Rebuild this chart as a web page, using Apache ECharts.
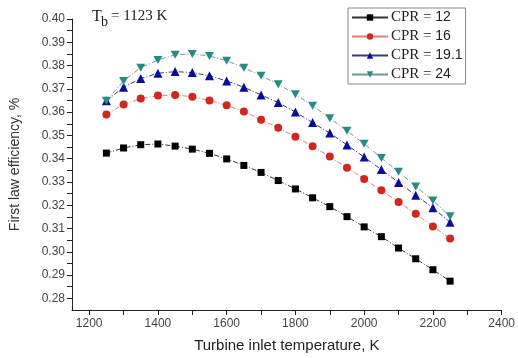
<!DOCTYPE html>
<html><head><meta charset="utf-8">
<script src="https://cdn.jsdelivr.net/npm/echarts@6/dist/echarts.min.js"></script>
<style>html,body{margin:0;padding:0;background:#fff}#c{width:518px;height:358px}</style>
</head><body><div id="c"></div>
<script>
const temps = [1250,1300,1350,1400,1450,1500,1550,1600,1650,1700,1750,1800,1850,1900,1950,2000,2050,2100,2150,2200,2250];
const cpr12 = [.3424,.3446,.3460,.3463,.3454,.3441,.3423,.3399,.3371,.3341,.3306,.3270,.3232,.3194,.3151,.3107,.3065,.3016,.2970,.2923,.2874];
const cpr16 = [.3590,.3633,.3658,.3671,.3674,.3666,.3650,.3629,.3603,.3567,.3533,.3494,.3453,.3409,.3361,.3313,.3264,.3214,.3163,.3109,.3057];
const cpr191 = [.3649,.3707,.3744,.3767,.3774,.3770,.3756,.3734,.3707,.3674,.3641,.3600,.3555,.3510,.3459,.3407,.3353,.3298,.3243,.3189,.3127];
const cpr24 = [.3649,.3734,.3791,.3824,.3846,.3850,.3841,.3821,.3791,.3756,.3720,.3677,.3627,.3574,.3520,.3464,.3403,.3344,.3281,.3220,.3153];
const seriesNames = ['12','16','19.1','24'];
const xLabels = [1200,1400,1600,1800,2000,2200,2400];
const xTicks = [1200,1300,1400,1500,1600,1700,1800,1900,2000,2100,2200,2300,2400];
const yLabels = [0.28,0.29,0.30,0.31,0.32,0.33,0.34,0.35,0.36,0.37,0.38,0.39,0.40];
const yTicks = [0.28,0.285,0.29,0.295,0.30,0.305,0.31,0.315,0.32,0.325,0.33,0.335,0.34,0.345,0.35,0.355,0.36,0.365,0.37,0.375,0.38,0.385,0.39,0.395,0.40];

const pairs = arr => temps.map((t,i)=>[t,arr[i]]);
const styles = [
  {data:cpr12, sym:'rect', size:7, mc:'#000000', lc:'#333333'},
  {data:cpr16, sym:'circle', size:8, mc:'#d0281e', lc:'#e0806f'},
  {data:cpr191, sym:'triangle', size:9, mc:'#0c0c9c', lc:'#3a3a7a'},
  {data:cpr24, sym:'path://M0,0 L10,0 L5,9 Z', size:[9,8], mc:'#2a8a82', lc:'#6f9a96'}
];
const chart = echarts.init(document.getElementById('c'), null, {renderer:'canvas'});
chart.setOption({
  animation:false,
  backgroundColor:'#fff',
  grid:{left:72,right:15,top:19,bottom:47},
  graphic:[
    {type:'text',left:92,top:9,style:{text:'T',font:'16px "Liberation Serif"',fill:'#222'}},
    {type:'text',left:101,top:15,style:{text:'b',font:'14px "Liberation Serif"',fill:'#222'}},
    {type:'text',left:111,top:9,style:{text:'= 1123 K',font:'15px "Liberation Serif"',fill:'#222'}}
  ],
  legend:{
    left:348, top:8, orient:'vertical', itemGap:4, itemWidth:36, itemHeight:8,
    padding:[2,3,2,3],
    borderColor:'#888', borderWidth:1,
    data:seriesNames.map(n=>'CPR = '+n),
    formatter: n => '{a|CPR = }{b|'+n.replace('CPR = ','')+'}',
    lineStyle:{type:'solid'},
    textStyle:{padding:[0,0,0,-2],rich:{a:{fontFamily:'Liberation Serif',fontSize:15,color:'#222'},b:{fontFamily:'Liberation Sans',fontSize:14,color:'#222'}}}
  },
  xAxis:{
    type:'value', min:1150, max:2400,
    name:'Turbine inlet temperature, K', nameLocation:'middle', nameGap:28,
    nameTextStyle:{fontFamily:'Liberation Sans',fontSize:15,color:'#222'},
    axisLine:{lineStyle:{color:'#222',width:1}},
    axisTick:{show:true,inside:false,length:5,customValues:xTicks,lineStyle:{color:'#222'}},
    axisLabel:{customValues:xLabels,formatter:v=>String(v),fontFamily:'Liberation Sans',fontSize:12,color:'#444',margin:8},
    splitLine:{show:false}
  },
  yAxis:{
    type:'value', min:0.275, max:0.40,
    name:'First law efficiency, %', nameLocation:'middle', nameGap:50,
    nameTextStyle:{fontFamily:'Liberation Sans',fontSize:14,color:'#333'},
    axisLine:{show:true,lineStyle:{color:'#222',width:1}},
    axisTick:{show:true,inside:false,length:5,customValues:yTicks,lineStyle:{color:'#222'}},
    axisLabel:{customValues:yLabels,formatter:v=>v.toFixed(2),fontFamily:'Liberation Sans',fontSize:12,color:'#444',margin:7},
    splitLine:{show:false}
  },
  series: styles.map((s,i)=>({
    type:'line', name:'CPR = '+seriesNames[i], data:pairs(s.data),
    symbol:s.sym, symbolSize:s.size, showAllSymbol:true,
    itemStyle:{color:s.mc},
    lineStyle:{color:s.lc,width:1,type:[5,2,1,2]},
    z: 2+i
  }))
});
</script></body></html>
